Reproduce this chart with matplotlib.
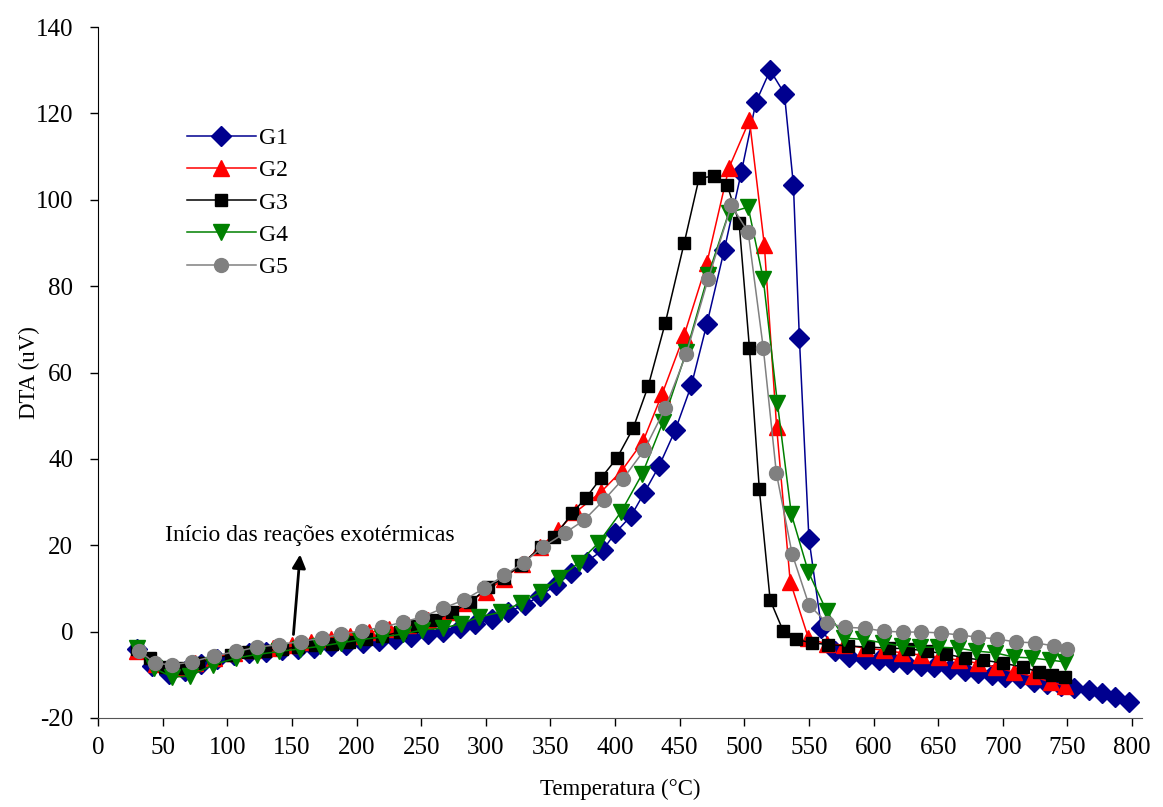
import matplotlib.pyplot as plt
import numpy as np

# ------------------------- Data -------------------------

g1_t = [30, 42, 55, 67, 80, 92, 105, 117, 130, 142, 155, 167, 180, 192, 205, 217, 230, 242, 255, 267,
        280, 292, 305, 317, 330, 342, 354, 366, 378, 390.6, 400, 412.4, 422.5, 434, 446.5, 459, 471, 484.5,
        497.7, 509, 520, 531, 538, 542.6, 550, 559.7, 570, 581, 593, 604, 615, 625.6, 636.4, 647, 659,
        670.5, 681, 692, 702, 713, 724, 734, 745, 755, 766.6, 777, 787, 798]
g1_v = [-4, -8, -9.8, -9.2, -7.5, -6.3, -5.5, -5, -4.7, -4.3, -4, -3.7, -3.3, -3, -2.6, -2.2, -1.7, -1.2, -0.6, 0,
        0.8, 1.8, 3, 4.5, 6.2, 8.3, 10.7, 13.5, 16.2, 18.9, 22.8, 26.8, 32.1, 38.3, 46.6, 57, 71.2, 88.4,
        106.4, 122.6, 130, 124.6, 103.4, 68, 21.5, 0.8, -4.6, -5.9, -6.4, -6.6, -7, -7.5, -8, -8.2, -8.7,
        -9.1, -9.6, -10, -10.5, -10.8, -11.7, -12.2, -12.6, -13, -13.5, -14.2, -15.1, -16.3]

g2_t = [30, 45, 60, 75, 90, 105, 120, 135, 150, 165, 180, 195, 210, 225, 240, 255, 270, 285, 300, 314,
        328, 342, 356, 370, 389, 405, 421.7, 436.4, 453.5, 471, 488, 504, 515.5, 525, 535.5, 549.6, 563.6,
        577.5, 593, 608, 621.7, 636.4, 651, 666, 680.6, 694.6, 708.5, 723, 737, 748]
g2_v = [-4.5, -7.5, -8.5, -7.2, -6, -5, -4.3, -3.7, -3, -2.4, -1.8, -1, -0.2, 0.6, 1.6, 2.8, 4.5, 6.6, 9.2, 12.3,
        15.6, 19.5, 23.5, 27.8, 32.3, 37.2, 44.1, 55, 68.7, 85.3, 107.3, 118.4, 89.5, 47.4, 11.6, -1.5, -2.9,
        -3.1, -3.8, -4.3, -4.9, -5.4, -5.9, -6.6, -7.3, -8.2, -9.4, -10.3, -11.7, -12.5]

g3_t = [30, 40, 52, 64, 77, 90, 103, 116, 129, 142, 155, 168, 181, 194, 207, 220, 234, 247, 261, 274,
        288, 302, 314, 327, 342.6, 353, 367, 377.5, 389, 401.5, 414, 425.6, 438.8, 453.5, 465, 476.7, 486.8,
        496, 504, 511.6, 520, 530, 540, 552, 565, 580, 596, 612, 627, 641, 656, 670.5, 685, 700, 715.5,
        728, 738, 748]
g3_v = [-4, -6, -8.2, -8.5, -7.3, -6.2, -5.4, -4.8, -4.4, -4, -3.6, -3.2, -2.8, -2.3, -1.8, -1.1, 0, 1.2, 2.7, 4.5,
        6.9, 10.3, 12.5, 15.4, 19.6, 21.9, 27.5, 31, 35.5, 40.2, 47.1, 56.8, 71.4, 90, 105, 105.5, 103.4,
        94.6, 65.6, 33, 7.3, 0.2, -1.8, -2.6, -3, -3.3, -3.6, -3.8, -4, -4.5, -5.2, -6.1, -6.6, -7.3, -8.2,
        -9.4, -10, -10.5]

g4_t = [30, 43, 57, 71, 89, 107, 123, 140, 156, 172, 188, 203, 220, 235.6, 251, 266.7, 280.6, 295, 311.6,
        327, 342.6, 357, 372, 387, 404.6, 421, 437, 455, 472, 488, 503, 514.7, 525.6, 536.4, 549.6, 563.6,
        577.5, 592, 607, 621.7, 635.7, 650, 665, 679, 694, 708.5, 722.5, 736.4, 748]
g4_v = [-3.8, -8.4, -10.5, -10.3, -7.7, -6.1, -5.3, -4.6, -4, -3.4, -2.6, -1.9, -1.2, -0.6, 0.4, 0.8, 1.8, 3.4, 4.5,
        6.6, 9.2, 12.4, 16, 20.5, 27.7, 36.5, 48.5, 64.7, 82.5, 97, 98.3, 81.6, 52.9, 27.2, 13.8, 4.8,
        -1.5, -1.8, -2.6, -3.3, -3.6, -3.6, -3.8, -4.5, -4.9, -5.9, -6.1, -6.6, -7]

g5_t = [32, 44, 57, 73, 90, 107, 123, 140, 157, 173, 188, 204, 220, 235.6, 251, 266.7, 283, 298.6, 314,
        329.5, 344, 361, 376, 391.5, 406, 422.5, 438.8, 455, 472, 490, 503, 514.7, 524.8, 537, 550, 564,
        578, 593, 608, 622.5, 637, 652, 667, 681, 695.6, 710, 725, 739.5, 750]
g5_v = [-4.5, -7.3, -7.7, -7, -5.6, -4.6, -3.6, -3, -2.3, -1.5, -0.6, 0.2, 1, 2.2, 3.4, 5.4, 7.3, 10, 13,
        16, 19.6, 22.8, 25.8, 30.5, 35.3, 42, 51.7, 64.2, 81.6, 98.7, 92.5, 65.6, 36.7, 18, 6.2, 2,
        1, 0.8, 0.1, -0.1, -0.1, -0.3, -0.8, -1.3, -1.7, -2.4, -2.6, -3.3, -4]

labels = ["G1", "G2", "G3", "G4", "G5"]
x_ticks = np.arange(0, 801, 50)
y_ticks = np.arange(-20, 141, 20)

# ------------------------- Style -------------------------

plt.rcParams['font.family'] = ['Liberation Serif', 'DejaVu Serif']
plt.rcParams['axes.unicode_minus'] = False

series = [
    (g1_t, g1_v, "D", "#00008f", 10),
    (g2_t, g2_v, "^", "#ff0000", 11),
    (g3_t, g3_v, "s", "#000000", 9),
    (g4_t, g4_v, "v", "#008000", 11),
    (g5_t, g5_v, "o", "#808080", 10),
]

fig = plt.figure(figsize=(11.63, 8.07), dpi=100)
ax = fig.add_axes([0.0843, 0.1103, 0.898, 0.8562])

for (t, v, mk, col, ms), lab in zip(series, labels):
    ax.plot(t, v, marker=mk, color=col, mfc=col, mec=col, ms=ms, lw=1.1, label=lab)

ax.set_xlim(0, 808)
ax.set_ylim(-20, 140)
ax.set_xticks(x_ticks)
ax.set_yticks(y_ticks)
ax.tick_params(direction='out', length=6, width=1, labelsize=18)
ax.tick_params(axis='y', pad=12)
ax.tick_params(axis='x', pad=8)
for s in ['top', 'right']:
    ax.spines[s].set_visible(False)
ax.spines['bottom'].set_color('#555555')

ax.set_xlabel("Temperatura (°C)", fontsize=16.5, labelpad=14)
ax.set_ylabel("DTA (uV)", fontsize=16.5, labelpad=-3)

ax.legend(loc='upper left', bbox_to_anchor=(0.065, 0.885), frameon=False, fontsize=17,
          handlelength=2.9, labelspacing=0.45, handletextpad=0.15)

# annotation
ax.text(52, 22.3, "Início das reações exotérmicas", fontsize=17, va='center')
ax.annotate("", xy=(156.5, 18.5), xytext=(151, -1.3),
            arrowprops=dict(arrowstyle='-|>', color='black', lw=2, mutation_scale=20))

fig.savefig("out.png", dpi=100)
